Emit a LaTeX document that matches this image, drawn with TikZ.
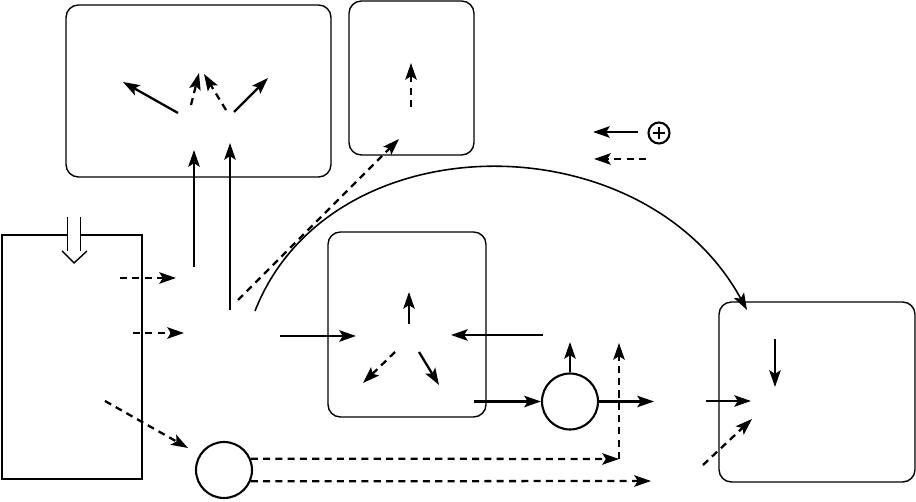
\documentclass[tikz,border=0pt]{standalone}
\usetikzlibrary{arrows.meta}
\begin{document}
\begin{tikzpicture}[
  x=0.02cm, y=-0.02cm,
  flow/.style={line width=1.3pt, -{Stealth[length=9.5pt,width=6.5pt,inset=2pt]}},
  dflow/.style={flow, dash pattern=on 4pt off 3pt},
  box/.style={draw, line width=0.8pt, rounded corners=7pt, inner sep=0pt},
  pool/.style={draw, circle, line width=1.2pt, minimum size=1.12cm, inner sep=0pt}
]
  \useasboundingbox (0,0) rectangle (916,502);

  % compartments
  \node[box, minimum width=5.3cm, minimum height=3.44cm] (canopy) at (198.5,91) {};
  \node[box, minimum width=2.5cm, minimum height=3.08cm] (atmos) at (411.5,78) {};
  \node[draw, line width=1pt, minimum width=2.8cm, minimum height=4.88cm, inner sep=0pt] (soil) at (72,357) {};
  \node[box, minimum width=3.16cm, minimum height=3.7cm] (plant) at (407,324.5) {};
  \node[box, minimum width=3.92cm, minimum height=3.6cm] (sink) at (817,392) {};
  \node[pool] (poolA) at (224,470) {};
  \node[pool] (poolB) at (570,401.5) {};
  \node[draw, circle, line width=1.2pt, minimum size=0.42cm, inner sep=0pt,
    path picture={
      \draw[line width=1pt] ([yshift=-2.5pt]path picture bounding box.north) -- ([yshift=2.5pt]path picture bounding box.south);
      \draw[line width=1pt] ([xshift=2.5pt]path picture bounding box.west) -- ([xshift=-2.5pt]path picture bounding box.east);
    }] (plus) at (659,133) {};

  % end points
  \coordinate (in) at (74,217);     \coordinate (inE) at (74,263);
  \coordinate (inM) at (74,251);    \coordinate (inL) at (62,251);   \coordinate (inR) at (87,251);
  \coordinate (c1) at (178,113);    \coordinate (c1E) at (123,82);
  \coordinate (c2) at (191,105);    \coordinate (c2E) at (199,73);
  \coordinate (c3) at (226,110);    \coordinate (c3E) at (204,74);
  \coordinate (c4) at (234,112);    \coordinate (c4E) at (268,78);
  \coordinate (u1) at (194,267);    \coordinate (u1E) at (194,150);
  \coordinate (u2) at (230,310);    \coordinate (u2E) at (230,143);
  \coordinate (d1) at (238,300);    \coordinate (d1E) at (399,139);
  \coordinate (a1) at (411,107);    \coordinate (a1E) at (411,63);
  \coordinate (arc) at (255,311);   \coordinate (arcE) at (747,310);
  \coordinate (s1) at (120,278);    \coordinate (s1E) at (176,278);
  \coordinate (s2) at (133,333);    \coordinate (s2E) at (184,333);
  \coordinate (s3) at (105,401);    \coordinate (s3E) at (188,448);
  \coordinate (p1) at (280,336);    \coordinate (p1E) at (356,336);
  \coordinate (p2) at (409,324);    \coordinate (p2E) at (409,292);
  \coordinate (p3) at (543,335);    \coordinate (p3E) at (451,335);
  \coordinate (p4) at (395,352);    \coordinate (p4E) at (363,383);
  \coordinate (p5) at (419,352);    \coordinate (p5E) at (439,385);
  \coordinate (p6) at (474,401.5);
  \coordinate (b1E) at (570,342);   \coordinate (b2E) at (654,401.5);
  \coordinate (k) at (619,459);     \coordinate (kE) at (619,343);
  \coordinate (lowE) at (651,481);
  \coordinate (r1) at (775,339);    \coordinate (r1E) at (775,387);
  \coordinate (r2) at (706,401);    \coordinate (r2E) at (751,401);
  \coordinate (r3) at (703,465);    \coordinate (r3E) at (752,419);
  \coordinate (l1) at (638,132);    \coordinate (l1E) at (593,132);
  \coordinate (l2) at (646,159);    \coordinate (l2E) at (594,159);

  % input from above
  \draw[double, double distance=6.5pt, line width=0.8pt] (in) -- (inM);
  \draw[line width=0.8pt] (inL) -- (inE) -- (inR);

  % fluxes
  \draw[flow] (c1) -- (c1E);
  \draw[dflow] (c2) -- (c2E);
  \draw[dflow] (c3) -- (c3E);
  \draw[flow] (c4) -- (c4E);
  \draw[flow] (u1) -- (u1E);
  \draw[flow] (u2) -- (u2E);
  \draw[dflow] (d1) -- (d1E);
  \draw[dflow] (a1) -- (a1E);
  \draw[flow, line width=0.9pt] (arc) .. controls (330,120) and (643,120) .. (arcE);
  \draw[dflow] (s1) -- (s1E);
  \draw[dflow] (s2) -- (s2E);
  \draw[dflow] (s3) -- (s3E);
  \draw[flow] (p1) -- (p1E);
  \draw[flow] (p2) -- (p2E);
  \draw[flow] (p3) -- (p3E);
  \draw[dflow] (p4) -- (p4E);
  \draw[flow] (p5) -- (p5E);
  \draw[flow] (p6) -- (poolB.west);
  \draw[flow] (poolB.north) -- (b1E);
  \draw[flow] (poolB.east) -- (b2E);
  \draw[dflow] (poolA.23) -- (k);
  \draw[dflow] (k) -- (kE);
  \draw[dflow] (poolA.-23) -- (lowE);
  \draw[flow] (r1) -- (r1E);
  \draw[flow] (r2) -- (r2E);
  \draw[dflow] (r3) -- (r3E);

  % legend
  \draw[flow] (l1) -- (l1E);
  \draw[dflow] (l2) -- (l2E);
\end{tikzpicture}
\end{document}
